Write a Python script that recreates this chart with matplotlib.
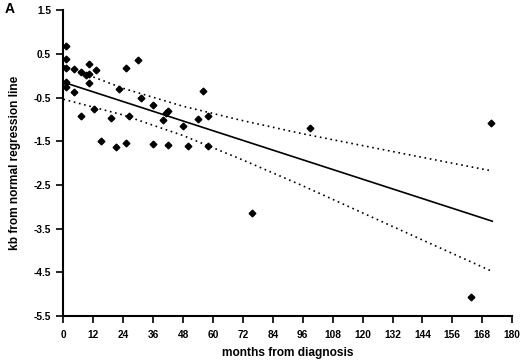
import matplotlib
matplotlib.use("Agg")
import matplotlib.pyplot as plt

# ---------------- DATA ----------------
months = [1.1, 1.1, 1.1, 1.1, 1.1, 4.3, 4.3, 7.1, 7.1, 9.1,
          10.1, 10.1, 10.1, 12.1, 13.2, 15.1, 19.1, 21.1, 22.1, 25.1,
          25.1, 26.1, 30.0, 31.0, 36.0, 36.0, 39.9, 41.0, 41.8, 42.0,
          47.9, 49.9, 54.0, 55.8, 58.0, 58.0, 75.8, 98.7, 163.4, 171.4]
kb = [0.69, 0.38, 0.17, -0.14, -0.27, 0.15, -0.37, 0.09, -0.93, 0.02,
      0.27, 0.04, -0.16, -0.76, 0.13, -1.49, -0.96, -1.63, -0.31, 0.18,
      -1.55, -0.93, 0.36, -0.50, -0.66, -1.57, -1.01, -0.86, -0.81, -1.59,
      -1.14, -1.62, -0.99, -0.36, -0.92, -1.62, -3.14, -1.19, -5.07, -1.09]

# regression line and confidence band
fit_x = [0, 172]
fit_y = [-0.15, -3.33]
band_x = [0, 24, 48, 72, 96, 120, 144, 172]
band_upper = [0.23, -0.29, -0.70, -1.03, -1.33, -1.60, -1.87, -2.18]
band_lower = [-0.54, -0.90, -1.37, -1.93, -2.52, -3.14, -3.76, -4.48]

x_ticks = list(range(0, 181, 12))
y_ticks = [1.5, 0.5, -0.5, -1.5, -2.5, -3.5, -4.5, -5.5]

# ---------------- PLOT ----------------
plt.rcParams["font.family"] = ["Liberation Sans", "DejaVu Sans"]
plt.rcParams["font.weight"] = "bold"

fig = plt.figure(figsize=(5.2, 3.62), dpi=100)
ax = fig.add_axes([0.122, 0.127, 0.863, 0.845])

ax.plot(fit_x, fit_y, color="black", lw=1.2)
ax.plot(band_x, band_upper, color="black", lw=1.2, linestyle=(0, (1, 2.2)))
ax.plot(band_x, band_lower, color="black", lw=1.2, linestyle=(0, (1, 2.2)))
ax.plot(months, kb, linestyle="none", marker="D", ms=3.4, color="black")

ax.set_xlim(0, 180)
ax.set_ylim(-5.5, 1.5)
ax.set_xticks(x_ticks)
ax.set_xticklabels([str(t) for t in x_ticks], fontsize=7.3, fontweight="bold")
ax.set_yticks(y_ticks)
ax.set_yticklabels([f"{t:.1f}" for t in y_ticks], fontsize=7.3, fontweight="bold")

for s in ["top", "right"]:
    ax.spines[s].set_visible(False)
for s in ["left", "bottom"]:
    ax.spines[s].set_linewidth(1.5)
ax.tick_params(direction="out", length=5, width=1.2)
ax.tick_params(axis="x", pad=5)
ax.tick_params(axis="y", pad=4)

ax.set_xlabel("months from diagnosis", fontsize=8.6, fontweight="bold", labelpad=5)
ax.set_ylabel("kb from normal regression line", fontsize=8.6, fontweight="bold", labelpad=9)

fig.text(0.008, 0.965, "A", fontsize=10, fontweight="bold")

fig.savefig("out.png", dpi=100)
